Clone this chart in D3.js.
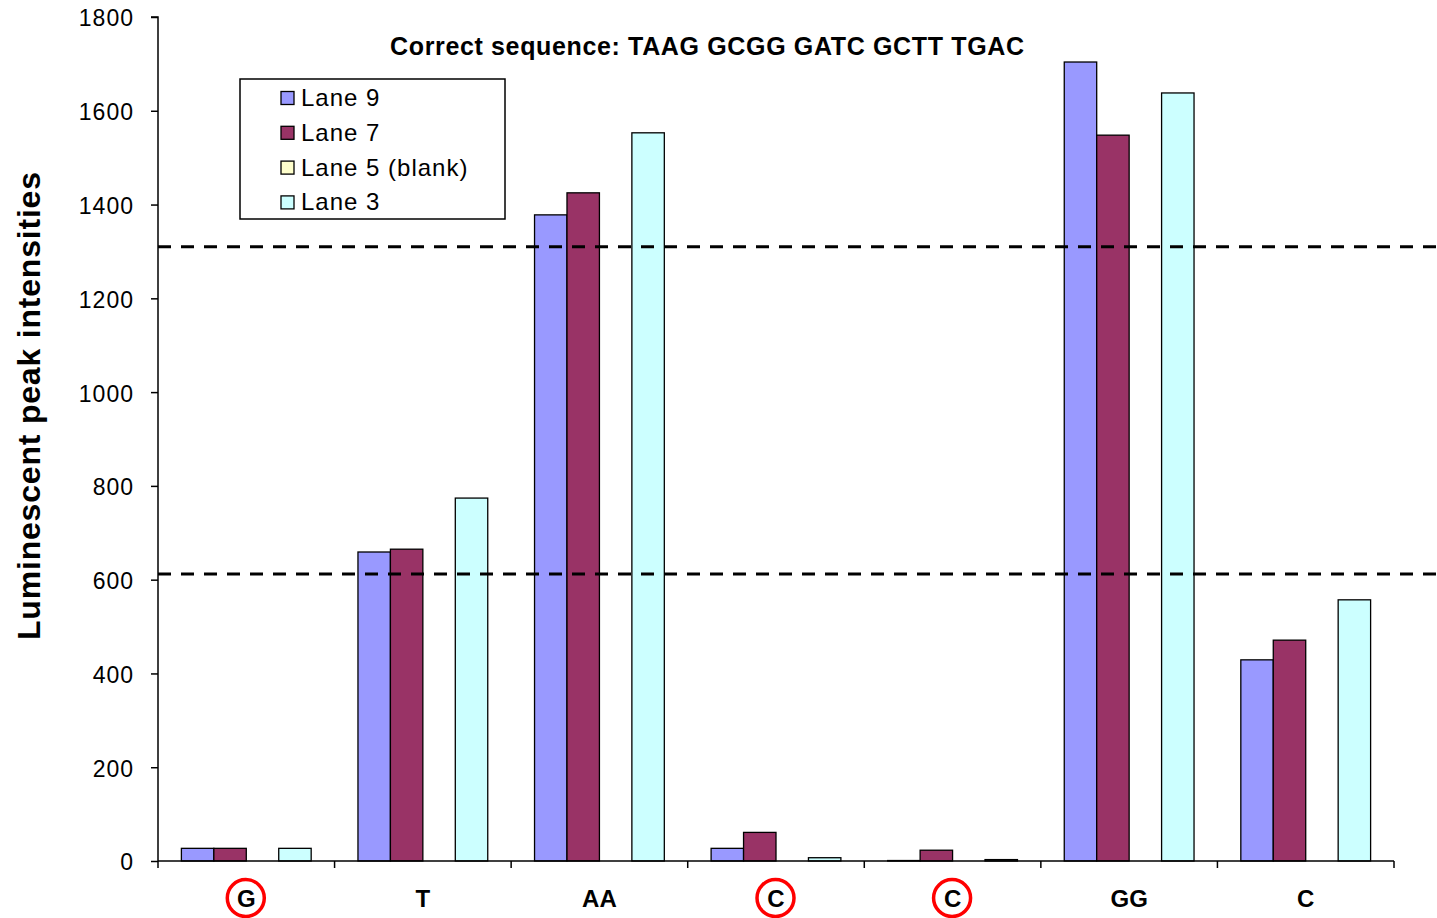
<!DOCTYPE html>
<html><head><meta charset="utf-8">
<script src="https://cdn.jsdelivr.net/npm/d3@7"></script>
<style>body{margin:0;background:#fff}svg{display:block}</style>
</head><body>
<svg id="c" width="1437" height="918"></svg>
<script>
const categories = ["G","T","AA","C1","C2","GG","C3"];
const catLabels = ["G","T","AA","C","C","GG","C"];
const circled = [true,false,false,true,true,false,false];
const seriesNames = ["Lane 9","Lane 7","Lane 5 (blank)","Lane 3"];
const seriesColors = ["#9999FF","#993366","#FFFFCC","#CCFFFF"];
const lane9 = [27, 659, 1378, 27, 1, 1704, 429];
const lane7 = [27, 665, 1425, 61, 23, 1548, 471];
const lane5 = [0, 0, 0, 0, 0, 0, 0];
const lane3 = [27, 774, 1553, 7, 3, 1638, 557];
const thresholds = [1310, 612];
const yTicks = [0,200,400,600,800,1000,1200,1400,1600,1800];
const title = "Correct sequence: TAAG GCGG GATC GCTT TGAC";

const series = [lane9, lane7, lane5, lane3];
const svg = d3.select("#c");
const font = "'Liberation Sans', Arial, sans-serif";
const x0 = 158, x1 = 1394, yTop = 17, yBot = 861;

const x = d3.scaleBand().domain(categories).range([x0, x1]).paddingInner(0.265).paddingOuter(0.1325);
const xs = d3.scaleBand().domain(d3.range(4)).range([0, x.bandwidth()]);
const xOuter = d3.scaleBand().domain(categories).range([x0, x1]);
const y = d3.scaleLinear().domain([0, 1800]).range([yBot, yTop]);

// bars
categories.forEach((c, i) => {
  series.forEach((s, j) => {
    if (s[i] <= 0) return;
    svg.append("rect")
      .attr("x", x(c) + xs(j))
      .attr("y", y(s[i]))
      .attr("width", xs.bandwidth())
      .attr("height", Math.max(0.5, y(0) - y(s[i])))
      .attr("fill", seriesColors[j])
      .attr("stroke", "#000").attr("stroke-width", 1.3);
  });
});

// dashed thresholds
thresholds.forEach(t => {
  svg.append("line").attr("x1", x0).attr("x2", 1437)
    .attr("y1", y(t)).attr("y2", y(t))
    .attr("stroke", "#000").attr("stroke-width", 3)
    .attr("stroke-dasharray", "13,10");
});

// y axis
const yAxis = d3.axisLeft(y).tickValues(yTicks).tickFormat(d3.format("d")).tickSize(7).tickPadding(17);
const gy = svg.append("g").attr("transform", `translate(${x0},0)`).call(yAxis);
gy.select(".domain").attr("stroke-width", 1.5).attr("d", `M-7,${yTop}H0V${yBot}`);
gy.selectAll(".tick line").attr("stroke-width", 1.5);
gy.selectAll(".tick text").attr("font-family", font).attr("font-size", 23)
  .attr("letter-spacing", 1).attr("dy", "0.39em").attr("fill", "#000");

// x axis
const gx = svg.append("g").attr("transform", `translate(0,${yBot})`);
gx.append("line").attr("x1", x0).attr("x2", x1).attr("y1", 0).attr("y2", 0).attr("stroke", "#000").attr("stroke-width", 1.5);
const bounds = categories.map(c => xOuter(c)).concat([x1]);
gx.selectAll("line.tk").data(bounds).join("line").attr("class","tk")
  .attr("x1", d => d).attr("x2", d => d).attr("y1", 0).attr("y2", 7)
  .attr("stroke", "#000").attr("stroke-width", 1.5);

categories.forEach((c, i) => {
  const cx = xOuter(c) + xOuter.bandwidth() / 2;
  if (circled[i]) {
    svg.append("circle").attr("cx", cx - 0.5).attr("cy", 898).attr("r", 18.5)
      .attr("fill", "none").attr("stroke", "#FF0000").attr("stroke-width", 3.5);
  }
  svg.append("text").attr("x", cx).attr("y", 907).attr("text-anchor", "middle")
    .attr("font-family", font).attr("font-weight", "bold").attr("font-size", 24)
    .text(catLabels[i]);
});

// y label
svg.append("text").attr("transform", "translate(40,406) rotate(-90)")
  .attr("text-anchor", "middle").attr("font-family", font).attr("font-weight", "bold")
  .attr("font-size", 32).attr("textLength", 468).attr("lengthAdjust", "spacing")
  .text("Luminescent peak intensities");

// title
svg.append("text").attr("x", 707).attr("y", 55).attr("text-anchor", "middle")
  .attr("font-family", font).attr("font-weight", "bold").attr("font-size", 25)
  .attr("textLength", 634).attr("lengthAdjust", "spacing")
  .text(title);

// legend
const lg = svg.append("g");
lg.append("rect").attr("x", 240).attr("y", 79).attr("width", 265).attr("height", 140)
  .attr("fill", "#fff").attr("stroke", "#000").attr("stroke-width", 1.5);
seriesNames.forEach((n, j) => {
  const cy = 98 + j * 34.8;
  lg.append("rect").attr("x", 281).attr("y", cy - 6.5).attr("width", 13).attr("height", 13)
    .attr("fill", seriesColors[j]).attr("stroke", "#000").attr("stroke-width", 1.3);
  lg.append("text").attr("x", 301).attr("y", cy + 8).attr("font-family", font)
    .attr("font-size", 24).attr("letter-spacing", 1).text(n);
});
</script>
</body></html>
